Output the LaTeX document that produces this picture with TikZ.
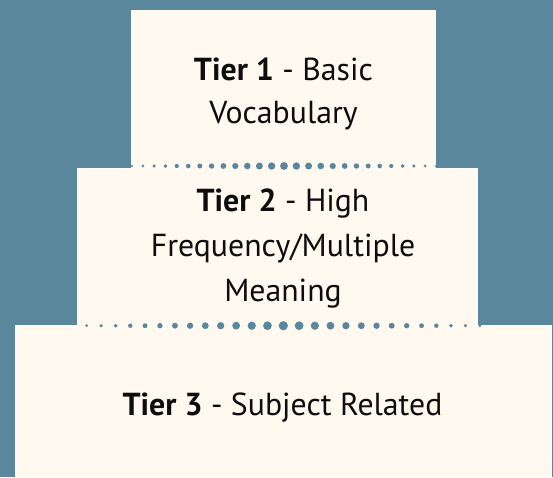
\documentclass[tikz,border=0pt]{standalone}
\usepackage{fontspec}
\setmainfont{PT Sans}
\definecolor{bg}{HTML}{5B879D}
\definecolor{cream}{HTML}{FFF9F0}
\begin{document}
\begin{tikzpicture}[x=1pt,y=-1pt,
  box/.style={fill=cream, draw=none, inner sep=0pt, outer sep=0pt, anchor=north west},
  lbl/.style={anchor=base, inner sep=0pt, font=\fontsize{31.8}{38}\selectfont, text=black!95},
  dot/.style={fill=bg}]
\fill[bg] (0,0) rectangle (553,477);
\useasboundingbox (0,0) rectangle (553,477);
\node[box, minimum width=537pt, minimum height=152pt] (tier3) at (15,325) {};
\node[box, minimum width=401pt, minimum height=157pt] (tier2) at (77,168) {};
\node[box, minimum width=305pt, minimum height=158pt] (tier1) at (131,10) {};
% dotted separators
\foreach \k in {-13,...,13} {
  \pgfmathsetmacro\a{abs(\k)}
  \pgfmathsetmacro\d{(\k<0 ? -1 : 1)*(12.4*\a - 0.054*\a*\a)}
  \pgfmathsetmacro\r{3.9 - 2.6*\a/13}
  \fill[dot] (284+\d,166) circle[radius=\r pt];
  \pgfmathsetmacro\e{(\k<0 ? -1 : 1)*(15.9*\a - 0.06*\a*\a)}
  \pgfmathsetmacro\s{4.6 - 3.1*\a/13}
  \fill[dot] (283.3+\e,325.7) circle[radius=\s pt];
}
\node[lbl] (t1a) at (283.5,80) {\textbf{Tier 1} - Basic};
\node[lbl] (t1b) at (283.5,123.3) {Vocabulary};
\node[lbl] (t2a) at (283,211.7) {\textbf{Tier 2} - High};
\node[lbl] (t2b) at (283,256) {Frequency/Multiple};
\node[lbl] (t2c) at (283,301) {Meaning};
\node[lbl] (t3a) at (282.5,415.7) {\textbf{Tier 3} - Subject Related};
\end{tikzpicture}
\end{document}
